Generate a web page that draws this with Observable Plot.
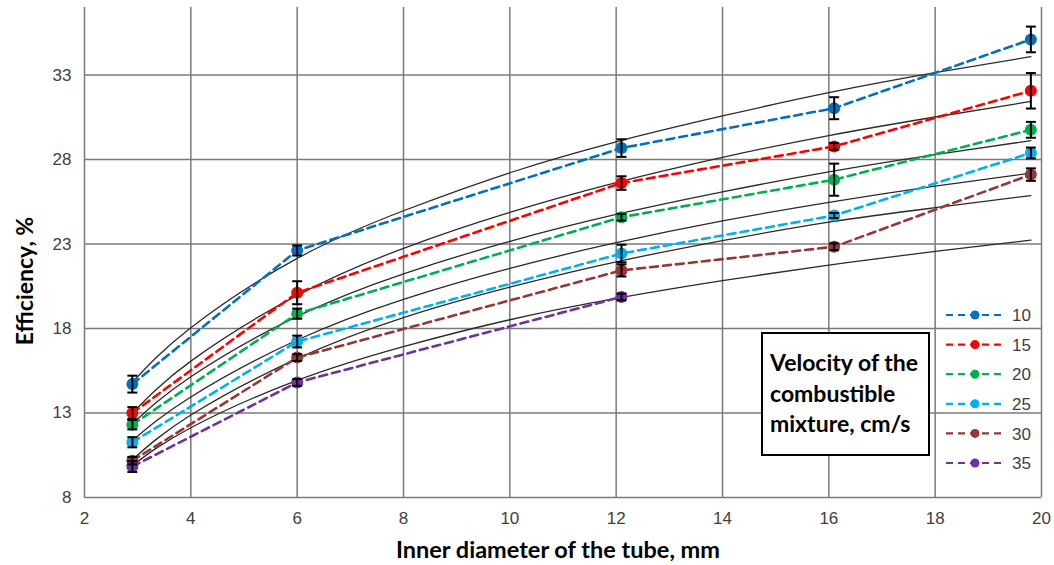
<!DOCTYPE html>
<html><head><meta charset="utf-8">
<script src="https://cdn.jsdelivr.net/npm/d3@7"></script>
<script src="https://cdn.jsdelivr.net/npm/@observablehq/plot@0.6"></script>
<style>
body{margin:0;background:#fff}
#chart{position:relative;width:1054px;height:565px}
</style>
</head><body><div id="chart"></div>
<script>
// ---- data ----
const diameters = [2.9, 6, 12.1, 16.1, 19.8];
const velocityLabels = ["10", "15", "20", "25", "30", "35"];
const seriesColors = ["#0070C0", "#FF0000", "#00B050", "#00B0F0", "#953735", "#7030A0"];

const eff10 = [14.71, 22.62, 28.68, 31.04, 35.11];
const eff15 = [13.00, 20.12, 26.61, 28.78, 32.07];
const eff20 = [12.31, 18.88, 24.59, 26.81, 29.76];
const eff25 = [11.27, 17.23, 22.44, 24.69, 28.39];
const eff30 = [10.18, 16.28, 21.44, 22.84, 27.11];
const eff35 = [9.83, 14.81, 19.87];

const err10 = [0.50, 0.30, 0.52, 0.65, 0.76];
const err15 = [0.35, 0.68, 0.40, 0.20, 1.05];
const err20 = [0.28, 0.30, 0.20, 0.95, 0.47];
const err25 = [0.30, 0.35, 0.52, 0.15, 0.32];
const err30 = [0.22, 0.20, 0.36, 0.20, 0.37];
const err35 = [0.32, 0.20, 0.20];

// black trend curves, read at these diameters
const fitX  = [2.9, 4, 6, 8, 10, 12, 14, 16, 18, 19.8];
const fit10 = [14.82, 18.05, 22.15, 24.97, 27.22, 29.05, 30.58, 31.96, 33.14, 34.09];
const fit15 = [13.00, 16.07, 19.96, 22.75, 24.88, 26.64, 28.13, 29.42, 30.52, 31.44];
const fit20 = [12.35, 15.15, 18.72, 21.24, 23.16, 24.75, 26.09, 27.27, 28.29, 29.12];
const fit25 = [11.36, 13.95, 17.32, 19.73, 21.56, 23.08, 24.37, 25.47, 26.43, 27.20];
const fit30 = [10.24, 12.88, 16.22, 18.65, 20.45, 21.95, 23.20, 24.30, 25.15, 25.87];
const fit35 = [9.89, 12.13, 14.93, 16.93, 18.52, 19.78, 20.83, 21.75, 22.57, 23.23];

const xTicks = [2, 4, 6, 8, 10, 12, 14, 16, 18, 20];
const yTicks = [8, 13, 18, 23, 28, 33];

// ---- build tables ----
const effs = [eff10, eff15, eff20, eff25, eff30, eff35];
const errs = [err10, err15, err20, err25, err30, err35];
const fits = [fit10, fit15, fit20, fit25, fit30, fit35];

const points = [];
effs.forEach((arr, i) => arr.forEach((v, j) => points.push({series: velocityLabels[i], x: diameters[j], y: v, e: errs[i][j]})));
const fitRows = [];
fits.forEach((arr, i) => arr.forEach((v, j) => fitRows.push({series: velocityLabels[i], x: fitX[j], y: v})));

const hline = {draw(ctx, size) { const w = Math.sqrt(size / Math.PI); ctx.moveTo(-w, 0); ctx.lineTo(w, 0); }};

const W = 1054, H = 565;
const chart = Plot.plot({
  width: W, height: H,
  marginLeft: 84, marginRight: 13, marginTop: 7, marginBottom: 68,
  style: {fontFamily: "'Liberation Sans', Arial, sans-serif", fontSize: "17px", color: "#404040", background: "#fff"},
  x: {domain: [2, 20]},
  y: {domain: [8, 37]},
  color: {domain: velocityLabels, range: seriesColors},
  marks: [
    Plot.ruleX(xTicks, {stroke: "#7a7a7a", strokeWidth: 1.5}),
    Plot.ruleY(yTicks, {stroke: "#7a7a7a", strokeWidth: 1.5}),
    Plot.line(fitRows, {x: "x", y: "y", z: "series", stroke: "#2a2a2a", strokeWidth: 1.3, curve: "natural"}),
    Plot.line(points, {x: "x", y: "y", z: "series", stroke: "series", strokeWidth: 2.6, strokeDasharray: "8,5"}),
    Plot.dot(points, {x: "x", y: "y", r: 6, fill: "series"}),
    Plot.ruleX(points, {x: "x", y1: d => d.y - d.e, y2: d => d.y + d.e, stroke: "#000", strokeWidth: 2}),
    Plot.dot(points, {x: "x", y: d => d.y + d.e, symbol: hline, r: 5, stroke: "#000", strokeWidth: 2}),
    Plot.dot(points, {x: "x", y: d => d.y - d.e, symbol: hline, r: 5, stroke: "#000", strokeWidth: 2}),
    Plot.axisX(xTicks, {tickSize: 0, tickPadding: 14, label: null, fontSize: 17}),
    Plot.axisY(yTicks, {tickSize: 0, tickPadding: 13, label: null, fontSize: 17})
  ]
});
document.getElementById("chart").appendChild(chart);

const svg = d3.select(chart);
const titleFont = "Lato, 'Open Sans', sans-serif";
// axis titles
svg.append("text").attr("x", 558).attr("y", 558).attr("text-anchor", "middle")
  .style("font-family", titleFont).style("font-weight", "bold").style("font-size", "23.5px").attr("fill", "#000")
  .text("Inner diameter of the tube, mm");
svg.append("text").attr("transform", "translate(33,281) rotate(-90)").attr("text-anchor", "middle")
  .style("font-family", titleFont).style("font-weight", "bold").style("font-size", "23px").attr("fill", "#000")
  .text("Efficiency, %");

// legend
const lg = svg.append("g");
velocityLabels.forEach((lab, i) => {
  const cy = 315 + i * 29.6;
  lg.append("line").attr("x1", 946).attr("x2", 1002).attr("y1", cy).attr("y2", cy)
    .attr("stroke", seriesColors[i]).attr("stroke-width", 2.2).attr("stroke-dasharray", "7,5");
  lg.append("circle").attr("cx", 975).attr("cy", cy).attr("r", 4.5).attr("fill", seriesColors[i]);
  lg.append("text").attr("x", 1012).attr("y", cy).attr("dy", "0.36em").attr("fill", "#404040")
    .attr("text-anchor", "start")
    .style("font-family", "'Liberation Sans', Arial, sans-serif").style("font-size", "17px").text(lab);
});

// text box
const tb = svg.append("g");
tb.append("rect").attr("x", 762).attr("y", 333).attr("width", 167).attr("height", 122)
  .attr("fill", "#fff").attr("stroke", "#000").attr("stroke-width", 2);
["Velocity of the", "combustible", "mixture, cm/s"].forEach((t, i) => {
  tb.append("text").attr("x", 770).attr("y", 371 + i * 30.5).attr("text-anchor", "start")
    .style("font-family", titleFont).style("font-weight", "bold").style("font-size", "23px").attr("fill", "#000")
    .text(t);
});
</script>
</body></html>
